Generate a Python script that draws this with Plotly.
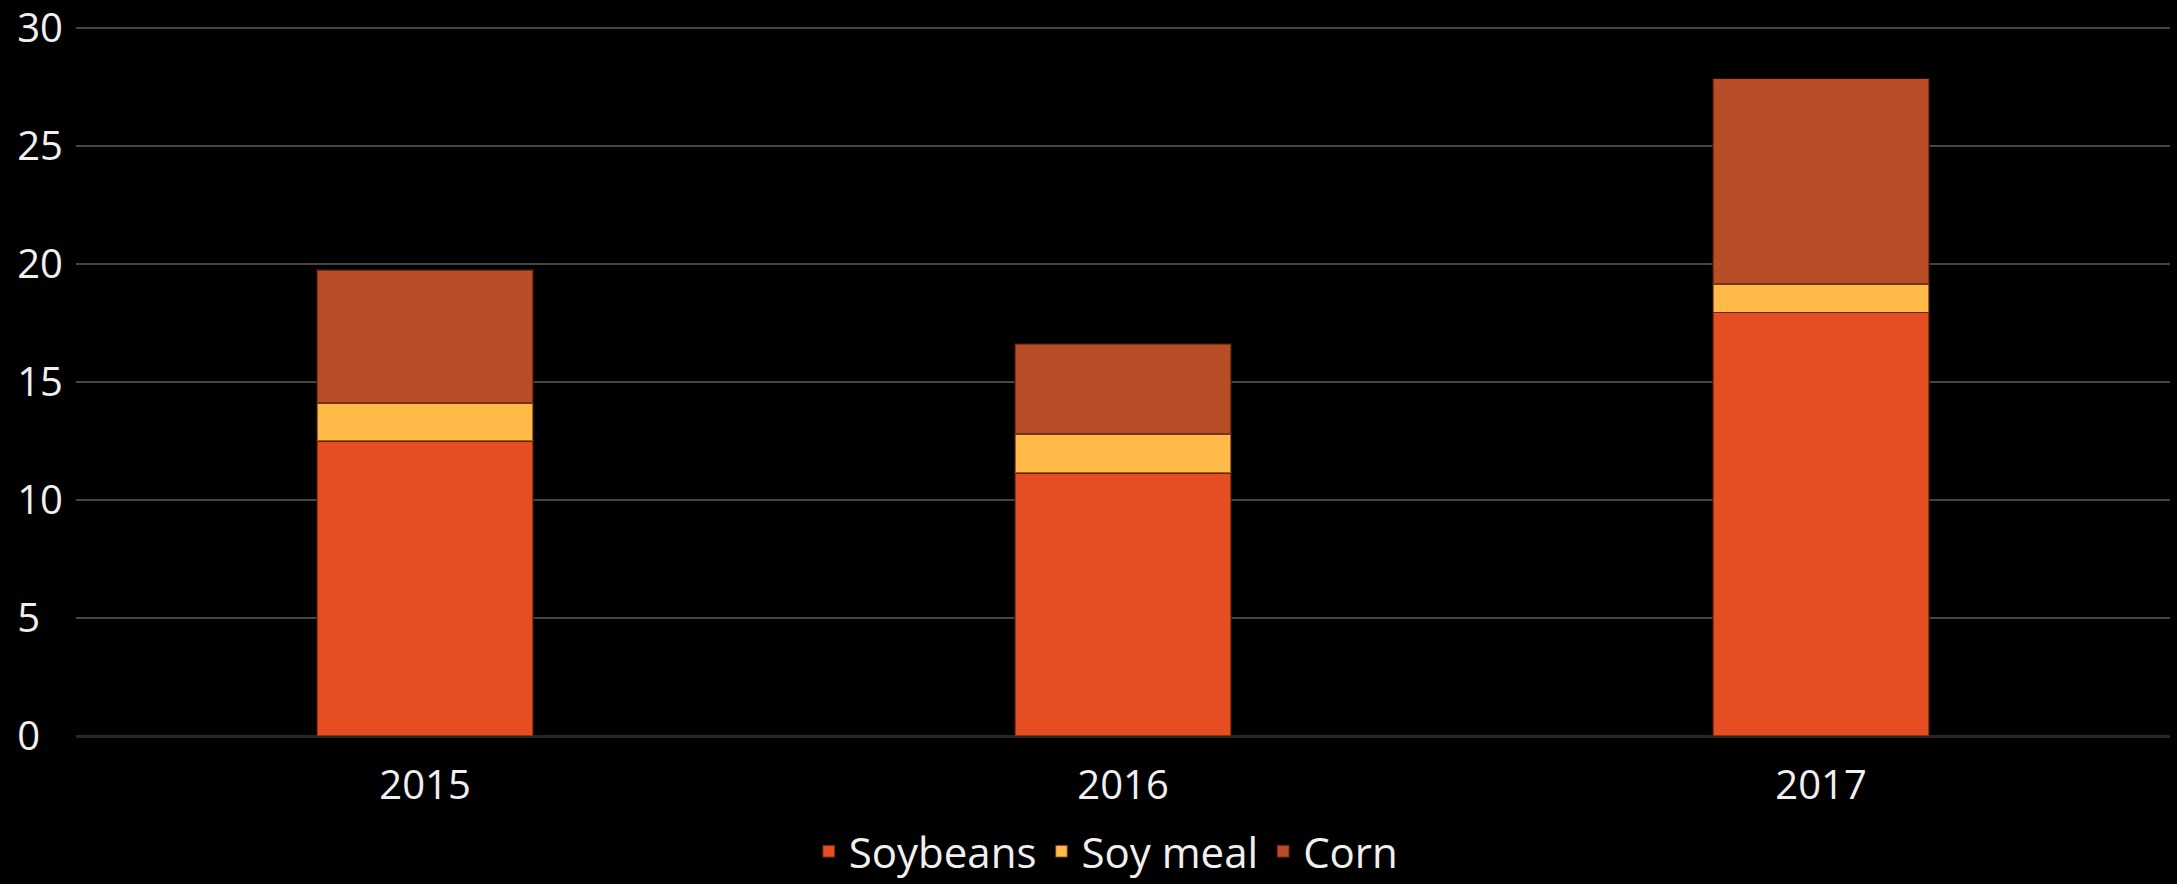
import plotly.graph_objects as go

years = ["2015", "2016", "2017"]
soybeans = [12.5, 11.15, 17.95]
soy_meal = [1.6, 1.65, 1.2]
corn = [5.65, 3.8, 8.7]

y_tickvals = [0, 5, 10, 15, 20, 25, 30]
y_ticktext = ["0\u2007", "5\u2007", "10", "15", "20", "25", "30"]

colors = {"Soybeans": "#E54E23", "Soy meal": "#FFBA47", "Corn": "#B84C26"}

fig = go.Figure()
for name, vals in [("Soybeans", soybeans), ("Soy meal", soy_meal), ("Corn", corn)]:
    fig.add_trace(go.Bar(
        x=years, y=vals, name=name,
        marker=dict(color=colors[name], line=dict(color="rgba(70,25,5,0.55)", width=1.5)),
    ))

fig.update_layout(
    barmode="stack",
    bargap=0.69,
    width=2177, height=884,
    paper_bgcolor="#000000",
    plot_bgcolor="#000000",
    margin=dict(l=76, r=7, t=16, b=148, autoexpand=False),
    font=dict(family="Open Sans", size=40, color="#f0f0f0"),
    showlegend=True,
    legend=dict(
        orientation="h", x=0.492, xanchor="center", y=-0.113, yanchor="top",
        font=dict(size=42, color="#f0f0f0"), traceorder="normal",
        itemwidth=30, bgcolor="rgba(0,0,0,0)",
    ),
    xaxis=dict(
        showgrid=False, showline=False, zeroline=False,
        tickfont=dict(size=40, color="#f0f0f0"),
        ticks="outside", ticklen=14, tickcolor="rgba(0,0,0,0)",
    ),
    yaxis=dict(
        range=[0, 30.5], tickvals=y_tickvals, ticktext=y_ticktext,
        showgrid=True, gridcolor="#444444", gridwidth=2,
        zeroline=True, zerolinecolor="#262626", zerolinewidth=3,
        showline=False, ticklabeloverflow="allow",
        tickfont=dict(size=40, color="#f0f0f0"),
        ticks="outside", ticklen=4, tickcolor="rgba(0,0,0,0)",
    ),
)

fig.write_html("out.html")
